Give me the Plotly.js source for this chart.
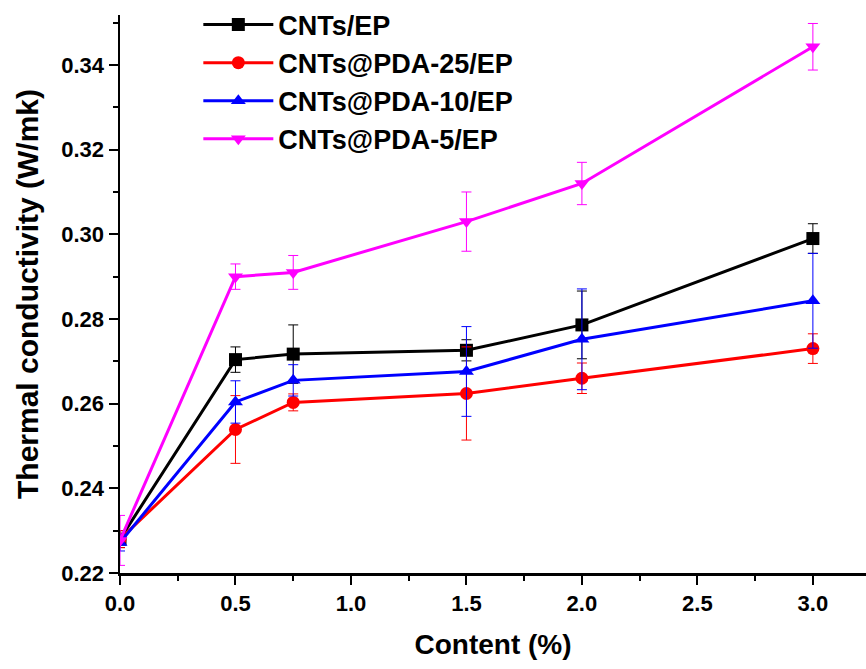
<!DOCTYPE html>
<html>
<head>
<meta charset="utf-8">
<script src="https://cdn.plot.ly/plotly-3.0.1.min.js"></script>
<style>body{margin:0;padding:0;background:#fff;} #chart{width:866px;height:669px;}</style>
</head>
<body>
<div id="chart"></div>
<script>
const content = [0, 0.5, 0.75, 1.5, 2.0, 3.0];
const seriesNames = ["CNTs/EP", "CNTs@PDA-25/EP", "CNTs@PDA-10/EP", "CNTs@PDA-5/EP"];
const cntsEP      = [0.2280, 0.2704, 0.2717, 0.2726, 0.2786, 0.2990];
const cntsEPErr   = [0.0020, 0.0030, 0.0069, 0.0025, 0.0080, 0.0035];
const pda25       = [0.2280, 0.2539, 0.2603, 0.2624, 0.2660, 0.2730];
const pda25Err    = [0.0020, 0.0080, 0.0020, 0.0110, 0.0036, 0.0035];
const pda10       = [0.2272, 0.2604, 0.2655, 0.2676, 0.2752, 0.2843];
const pda10Err    = [0.0020, 0.0050, 0.0037, 0.0106, 0.0119, 0.0112];
const pda5        = [0.2277, 0.2900, 0.2910, 0.3030, 0.3120, 0.3443];
const pda5Err     = [0.0059, 0.0030, 0.0040, 0.0070, 0.0050, 0.0055];
const xTicks = [0, 0.5, 1.0, 1.5, 2.0, 2.5, 3.0];
const xTickText = ["0.0", "0.5", "1.0", "1.5", "2.0", "2.5", "3.0"];
const yTicks = [0.22, 0.24, 0.26, 0.28, 0.30, 0.32, 0.34];
const yTickText = ["0.22", "0.24", "0.26", "0.28", "0.30", "0.32", "0.34"];

const ys = [cntsEP, pda25, pda10, pda5];
const errs = [cntsEPErr, pda25Err, pda10Err, pda5Err];
const colors = ["#000000", "#ff0000", "#0000ff", "#ff00ff"];
const symbols = ["square", "circle", "triangle-up", "triangle-down"];

const traces = ys.map((y, i) => ({
  x: content, y: y, name: seriesNames[i], type: "scatter", mode: "lines+markers",
  line: {color: colors[i], width: 3},
  marker: {color: colors[i], symbol: symbols[i], size: 13},
  error_y: {type: "data", array: errs[i], visible: true, color: colors[i], thickness: 1, width: 5},
  legendgroup: "g" + i
}));

const fontFam = "Liberation Sans, Arial, sans-serif";
const layout = {
  width: 866, height: 669,
  margin: {l: 120, r: 0, t: 15, b: 96},
  paper_bgcolor: "#ffffff", plot_bgcolor: "#ffffff",
  showlegend: true,
  legend: {x: 0.105, y: 1.026, xanchor: "left", yanchor: "top", bgcolor: "rgba(0,0,0,0)",
           font: {family: fontFam, size: 27, color: "#000", weight: "bold"}, itemwidth: 70, tracegroupgap: 0,
           traceorder: "normal"},
  xaxis: {
    range: [0, 3.23], showgrid: false, zeroline: false, showline: true, linecolor: "#000", linewidth: 2.5,
    ticks: "outside", ticklen: 9, tickwidth: 2, tickcolor: "#000",
    tickvals: xTicks, ticktext: xTickText,
    minor: {dtick: 0.25, tick0: 0, ticks: "outside", ticklen: 5, tickwidth: 2, tickcolor: "#000"},
    tickfont: {family: fontFam, size: 22, color: "#000", weight: "bold"},
    title: {text: "<b>Content (%)</b>", font: {family: fontFam, size: 28, color: "#000"}, standoff: 20}
  },
  yaxis: {
    range: [0.22, 0.3518], showgrid: false, zeroline: false, showline: true, linecolor: "#000", linewidth: 2.5,
    ticks: "outside", ticklen: 9, tickwidth: 2, tickcolor: "#000",
    tickvals: yTicks, ticktext: yTickText,
    minor: {dtick: 0.01, tick0: 0.22, ticks: "outside", ticklen: 5, tickwidth: 2, tickcolor: "#000"},
    tickfont: {family: fontFam, size: 22, color: "#000", weight: "bold"},
    title: {text: "<b>Thermal conductivity (W/mk)</b>", font: {family: fontFam, size: 30, color: "#000"}, standoff: 14}
  }
};
Plotly.newPlot("chart", traces, layout, {displayModeBar: false, staticPlot: true});
</script>
</body>
</html>
